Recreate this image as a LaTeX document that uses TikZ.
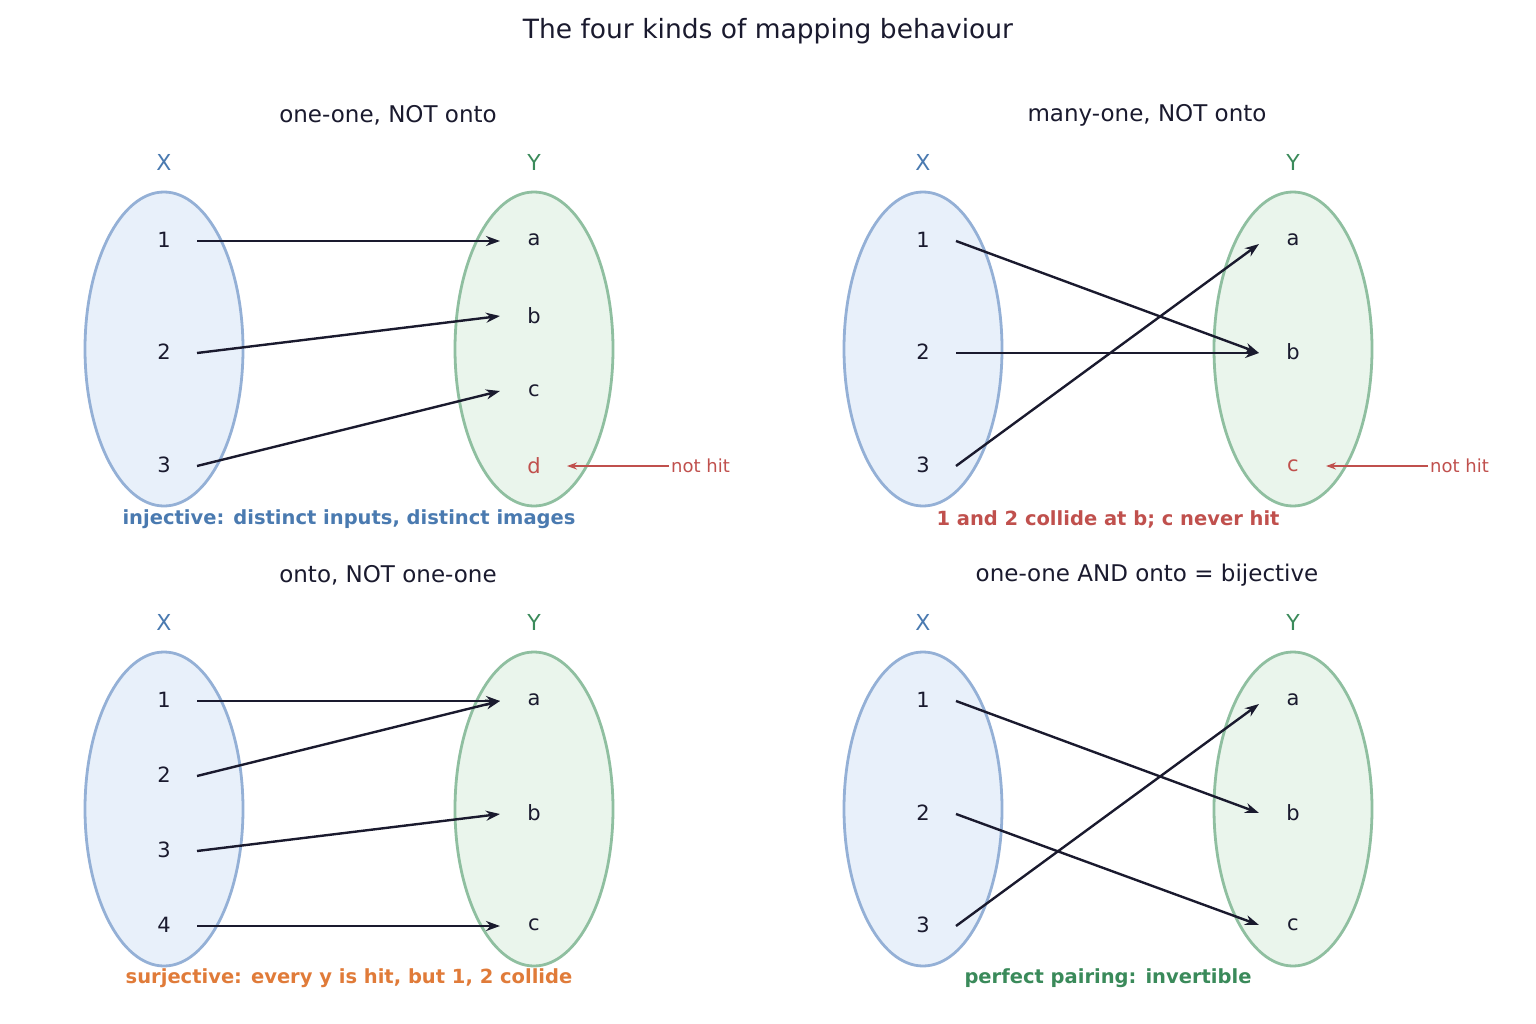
\documentclass[tikz,border=0pt]{standalone}
\usepackage{fontspec}
\setmainfont{DejaVu Sans}
\usetikzlibrary{arrows.meta}
\definecolor{dk}{HTML}{1A1A2E}
\definecolor{bE}{HTML}{94B0D6}\definecolor{bF}{HTML}{E8F0FA}
\definecolor{gE}{HTML}{8FBFA0}\definecolor{gF}{HTML}{EAF5EC}
\definecolor{xl}{HTML}{4A7AB0}\definecolor{yl}{HTML}{3A8A5A}
\definecolor{rd}{HTML}{C0504D}\definecolor{og}{HTML}{E07B39}
\tikzset{
 setX/.style={draw=bE,fill=bF,line width=2.8pt},
 setY/.style={draw=gE,fill=gF,line width=2.8pt},
 el/.style={text=dk,font=\fontsize{21}{21}\selectfont},
 hd/.style={text=dk,font=\fontsize{23}{23}\selectfont},
 lx/.style={text=xl,font=\fontsize{22}{22}\selectfont},
 ly/.style={text=yl,font=\fontsize{22}{22}\selectfont},
 cpt/.style={font=\bfseries\fontsize{19.5}{19.5}\selectfont},
 ar/.style={draw=dk,line width=2.4pt,-{Stealth[length=14pt,width=10pt]}},
 nh/.style={draw=rd,line width=1.9pt,-{Stealth[length=10pt,width=7pt]}},
}
\begin{document}
\begin{tikzpicture}[x=1pt,y=-1pt]
\useasboundingbox (0,0) rectangle (1536,1024);
\node[text=dk,font=\fontsize{26.5}{26.5}\selectfont] (title) at (768,31) {The four kinds of mapping behaviour};
% panel 1
\begin{scope}[name prefix=p1-]
\node[hd] (h) at (388,115) {one-one, NOT onto};
\draw[setX] (164,349) ellipse (79 and 157);
\draw[setY] (534,349) ellipse (79 and 157);
\node[lx] (X) at (164,162) {X}; \node[ly] (Y) at (534,162) {Y};
\node[el] (x1) at (164,240) {1}; \node[el] (x2) at (164,352) {2}; \node[el] (x3) at (164,465) {3};
\node[el] (a) at (534,240) {a}; \node[el] (b) at (534,316) {b}; \node[el] (c) at (534,391) {c};
\node[el,text=rd] (d) at (534,466) {d};
\coordinate (s1) at (197,241); \coordinate (s2) at (197,353); \coordinate (s3) at (197,466);
\coordinate (ea) at (500,241); \coordinate (eb) at (500,316); \coordinate (ec) at (500,391);
\draw[ar] (s1)--(ea); \draw[ar] (s2)--(eb); \draw[ar] (s3)--(ec);
\node[anchor=west,text=rd,font=\fontsize{18}{18}\selectfont,inner sep=2pt] (nt) at (669,466) {not hit};
\coordinate (nd) at (567,466);
\draw[nh] (nt.west)--(nd);
\node[cpt,text=xl] (cp) at (349,519) {injective: distinct inputs, distinct images};
\end{scope}
% panel 2
\begin{scope}[name prefix=p2-,xshift=759]
\node[hd] (h) at (388,115) {many-one, NOT onto};
\draw[setX] (164,349) ellipse (79 and 157);
\draw[setY] (534,349) ellipse (79 and 157);
\node[lx] (X) at (164,162) {X}; \node[ly] (Y) at (534,162) {Y};
\node[el] (x1) at (164,240) {1}; \node[el] (x2) at (164,352) {2}; \node[el] (x3) at (164,465) {3};
\node[el] (a) at (534,240) {a}; \node[el] (b) at (534,352) {b};
\node[el,text=rd] (c) at (534,466) {c};
\coordinate (s1) at (197,241); \coordinate (s2) at (197,353); \coordinate (s3) at (197,466);
\coordinate (ea) at (500,244); \coordinate (eb) at (500,353);
\draw[ar] (s1)--(eb); \draw[ar] (s2)--(eb); \draw[ar] (s3)--(ea);
\node[anchor=west,text=rd,font=\fontsize{18}{18}\selectfont,inner sep=2pt] (nt) at (669,466) {not hit};
\coordinate (nd) at (567,466);
\draw[nh] (nt.west)--(nd);
\node[cpt,text=rd] (cp) at (349,519) {1 and 2 collide at b; c never hit};
\end{scope}
% panel 3
\begin{scope}[name prefix=p3-,yshift=-460]
\node[hd] (h) at (388,115) {onto, NOT one-one};
\draw[setX] (164,349) ellipse (79 and 157);
\draw[setY] (534,349) ellipse (79 and 157);
\node[lx] (X) at (164,162) {X}; \node[ly] (Y) at (534,162) {Y};
\node[el] (x1) at (164,240) {1}; \node[el] (x2) at (164,315) {2}; \node[el] (x3) at (164,390) {3}; \node[el] (x4) at (164,465) {4};
\node[el] (a) at (534,240) {a}; \node[el] (b) at (534,353) {b}; \node[el] (c) at (534,465) {c};
\coordinate (s1) at (197,241); \coordinate (s2) at (197,316); \coordinate (s3) at (197,391); \coordinate (s4) at (197,466);
\coordinate (ea) at (500,241); \coordinate (eb) at (500,354); \coordinate (ec) at (500,466);
\draw[ar] (s1)--(ea); \draw[ar] (s2)--(ea); \draw[ar] (s3)--(eb); \draw[ar] (s4)--(ec);
\node[cpt,text=og] (cp) at (349,518) {surjective: every y is hit, but 1, 2 collide};
\end{scope}
% panel 4
\begin{scope}[name prefix=p4-,xshift=759,yshift=-460]
\node[hd] (h) at (388,115) {one-one AND onto = bijective};
\draw[setX] (164,349) ellipse (79 and 157);
\draw[setY] (534,349) ellipse (79 and 157);
\node[lx] (X) at (164,162) {X}; \node[ly] (Y) at (534,162) {Y};
\node[el] (x1) at (164,240) {1}; \node[el] (x2) at (164,353) {2}; \node[el] (x3) at (164,465) {3};
\node[el] (a) at (534,240) {a}; \node[el] (b) at (534,353) {b}; \node[el] (c) at (534,465) {c};
\coordinate (s1) at (197,241); \coordinate (s2) at (197,354); \coordinate (s3) at (197,466);
\coordinate (ea) at (500,244); \coordinate (eb) at (500,353); \coordinate (ec) at (500,465);
\draw[ar] (s1)--(eb); \draw[ar] (s2)--(ec); \draw[ar] (s3)--(ea);
\node[cpt,text=yl] (cp) at (349,518) {perfect pairing: invertible};
\end{scope}
\end{tikzpicture}
\end{document}
